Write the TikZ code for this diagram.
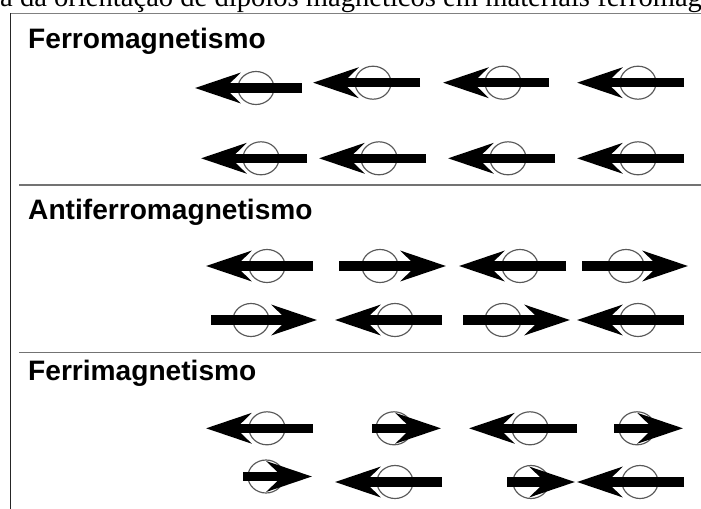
\documentclass[tikz,border=0pt]{standalone}
\usepackage{fontspec}
\setmainfont{Liberation Serif}
\setsansfont{Liberation Sans}
\usepackage{tikz}
\usetikzlibrary{arrows.meta}

\begin{document}
\begin{tikzpicture}[
  x=0.03cm, y=-0.03cm,
  caption/.style={font=\fontsize{24.4}{25}\selectfont, inner sep=0pt},
  heading/.style={font=\sffamily\bfseries\fontsize{24}{24}\selectfont, inner sep=0pt},
  frame/.style={line width=0.055cm},
  sep/.style={draw=black!55, line width=0.045cm},
  orbit/.style={draw=black!65, line width=0.035cm},
  dipole/.style={-{Stealth[length=1.35cm, width=0.9cm, inset=0.45cm]}, line width=0.285cm}
]
\clip (0,0) rectangle (701,509);
\useasboundingbox (0,0) rectangle (701,509);

% caption cut by the page
\node[caption, anchor=base west] (cap) at (0,7) {a da orientação de dipolos magnéticos em materiais ferromag};

% frame and separators
\draw[frame, draw=black!50] (10.5,13.5) -- (705,13.5);
\draw[frame, draw=black!85] (10.5,13.5) -- (10.5,512);
\draw[sep] (19,185) -- (705,185);
\draw[sep] (19,352.5) -- (705,352.5);

% headings
\node[heading, anchor=base west] (ferro) at (28,48.5) {Ferromagnetismo};
\node[heading, anchor=base west] (antiferro) at (28,219) {Antiferromagnetismo};
\node[heading, anchor=base west] (ferri) at (28,380.5) {Ferrimagnetismo};

% dipoles: tail / tip / orbit centre / row
\foreach \tl/\tp/\ex/\y in {
  302/195/256/88, 420/313/373/82.7, 549/443/503/82.7, 684/577/638/82.7,
  307/201/261/158.3, 426/319/379/158.3, 555/448/508/158.3, 684/577/638/158.3,
  313/206/267/266, 339/446/380/266, 566/459/520/266, 582/688/626/266,
  211/317/251/320, 442/335/395/320, 463/570/503/320, 684/577/638/320,
  313/206/267/428.3, 372/441/394/428.3, 577/469/530/428.3, 614/683/637/428.3,
  243/312/266/476.5, 442/335/395/482, 507/575/531/482, 684/577/640/482}
{
  \draw[orbit] (\ex,\y) ellipse [x radius=18, y radius=16.5];
  \draw[dipole] (\tl,\y) -- (\tp,\y);
}
\end{tikzpicture}
\end{document}
